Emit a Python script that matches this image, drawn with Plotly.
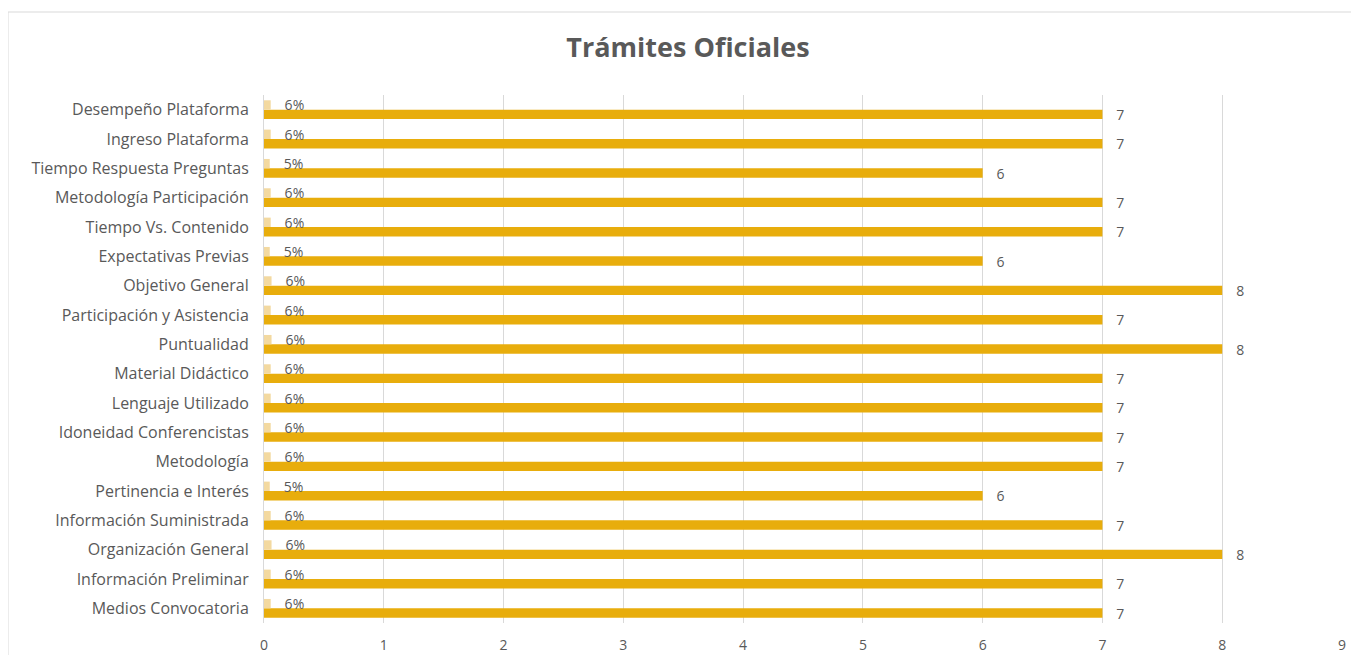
import plotly.graph_objects as go

categories = [
    "Medios Convocatoria", "Información Preliminar", "Organización General",
    "Información Suministrada", "Pertinencia e Interés", "Metodología",
    "Idoneidad Conferencistas", "Lenguaje Utilizado", "Material Didáctico",
    "Puntualidad", "Participación y Asistencia", "Objetivo General",
    "Expectativas Previas", "Tiempo Vs. Contenido", "Metodología Participación",
    "Tiempo Respuesta Preguntas", "Ingreso Plataforma", "Desempeño Plataforma",
]
counts = [7, 7, 8, 7, 6, 7, 7, 7, 7, 8, 7, 8, 6, 7, 7, 6, 7, 7]
percents = [0.056, 0.056, 0.063, 0.056, 0.048, 0.056, 0.056, 0.056, 0.056,
            0.063, 0.056, 0.063, 0.048, 0.056, 0.056, 0.048, 0.056, 0.056]
percent_labels = ["6%", "6%", "6%", "6%", "5%", "6%", "6%", "6%", "6%",
                  "6%", "6%", "6%", "5%", "6%", "6%", "5%", "6%", "6%"]
x_ticks = [0, 1, 2, 3, 4, 5, 6, 7, 8, 9]

NB = "\u00a0"
FONT = "Open Sans"
GRAY = "#595959"

W, H = 1351, 647
ML, MR, MT, MB = 256, 17, 87, 32
PW, PH = W - ML - MR, H - MT - MB

fig = go.Figure()
fig.add_trace(go.Bar(
    y=categories, x=counts, orientation="h", name="Cantidad",
    marker=dict(color="#E8AD0C", line=dict(width=0)),
    text=[NB * 3 + str(c) for c in counts], textposition="outside",
    constraintext="none",
    textfont=dict(family=FONT, size=14, color=GRAY), cliponaxis=False,
))
fig.add_trace(go.Bar(
    y=categories, x=percents, orientation="h", name="Porcentaje",
    marker=dict(color="#F3D9A0", line=dict(width=0)),
    text=[NB * 3 + t for t in percent_labels], textposition="outside",
    constraintext="none",
    textfont=dict(family=FONT, size=14, color=GRAY), cliponaxis=False,
))

fig.update_layout(
    width=W, height=H,
    margin=dict(l=ML, r=MR, t=MT, b=MB, autoexpand=False),
    barmode="group", bargap=0.36, bargroupgap=0,
    showlegend=False,
    plot_bgcolor="white", paper_bgcolor="white",
    font=dict(family=FONT, color=GRAY),
    title=dict(text="<b>Trámites Oficiales</b>", x=680 / W, xanchor="center",
               y=1 - 40 / H, yanchor="middle",
               font=dict(family=FONT, size=27, color=GRAY)),
)
fig.update_xaxes(
    range=[0, 9], tickvals=x_ticks, showgrid=True, gridcolor="#D9D9D9",
    gridwidth=1, zeroline=False, showline=False, automargin=False,
    tickfont=dict(family=FONT, size=14, color=GRAY), ticklabelstandoff=12,
)
fig.update_yaxes(
    categoryorder="array", categoryarray=categories, automargin=False,
    showline=True, linecolor="#D9D9D9", linewidth=1, showgrid=False,
    tickfont=dict(family=FONT, size=16, color=GRAY), ticklabelstandoff=11,
)
fig.add_shape(type="rect", xref="paper", yref="paper",
              x0=-ML / PW, x1=1 + (MR + 20) / PW,
              y0=-(MB + 20) / PH, y1=1 + (MT - 4) / PH,
              line=dict(color="#D9D9D9", width=1), fillcolor="rgba(0,0,0,0)",
              layer="below")

fig.write_html("out.html")
